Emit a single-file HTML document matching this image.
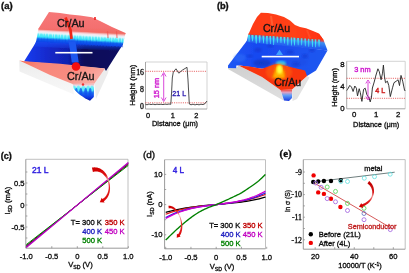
<!DOCTYPE html>
<html><head><meta charset="utf-8"><style>
html,body{margin:0;padding:0;background:#fff;width:409px;height:273px;overflow:hidden}
svg{display:block}
</style></head><body>
<svg width="409" height="273" viewBox="0 0 409 273">
<rect width="409" height="273" fill="#fff"/>
<g filter="url(#soft)">
<defs>
<filter id="blur1" x="-10%" y="-10%" width="120%" height="120%"><feGaussianBlur stdDeviation="0.65"/></filter>
<filter id="blur2" x="-10%" y="-10%" width="120%" height="120%"><feGaussianBlur stdDeviation="0.9"/></filter>
<filter id="soft" x="0" y="0" width="100%" height="100%" filterUnits="userSpaceOnUse"><feGaussianBlur stdDeviation="0.35"/></filter>
<filter id="tb" x="-10%" y="-10%" width="120%" height="120%"><feGaussianBlur stdDeviation="0.25"/></filter>
<linearGradient id="stepA" gradientUnits="userSpaceOnUse" x1="80" y1="30.9" x2="79.2" y2="44.6">
 <stop offset="0" stop-color="#f06a5c"/>
 <stop offset="0.1" stop-color="#f4a8a8"/>
 <stop offset="0.2" stop-color="#f6e4ec"/>
 <stop offset="0.3" stop-color="#e0f4fa"/>
 <stop offset="0.42" stop-color="#60ecf8"/>
 <stop offset="0.6" stop-color="#38e4f8"/>
 <stop offset="0.76" stop-color="#1064f0"/>
 <stop offset="1" stop-color="#1040e8"/>
</linearGradient>
<linearGradient id="floorA" gradientUnits="userSpaceOnUse" x1="24" y1="0" x2="122" y2="0">
 <stop offset="0" stop-color="#1a3cf0"/>
 <stop offset="0.27" stop-color="#1428c8"/>
 <stop offset="0.45" stop-color="#1020b0"/>
 <stop offset="0.55" stop-color="#0c1470"/>
 <stop offset="0.62" stop-color="#0a0e58"/>
 <stop offset="1" stop-color="#0a1060"/>
</linearGradient>
<linearGradient id="floorTopA" x1="0" y1="0" x2="0" y2="1">
 <stop offset="0" stop-color="#1848f0" stop-opacity="1"/>
 <stop offset="1" stop-color="#1848f0" stop-opacity="0"/>
</linearGradient>
<linearGradient id="stepB" gradientUnits="userSpaceOnUse" x1="285" y1="36.7" x2="284.2" y2="46.4">
 <stop offset="0" stop-color="#ff3a10"/>
 <stop offset="0.15" stop-color="#c05070"/>
 <stop offset="0.3" stop-color="#3c90f0"/>
 <stop offset="0.75" stop-color="#2868f0"/>
 <stop offset="1" stop-color="#2058f0"/>
</linearGradient>
<linearGradient id="greyA" x1="0" y1="0" x2="0" y2="1">
 <stop offset="0" stop-color="#e8e8e8"/>
 <stop offset="0.3" stop-color="#f0f0f0"/>
 <stop offset="1" stop-color="#f8f8f8"/>
</linearGradient>
<linearGradient id="secA" x1="0" y1="0" x2="0" y2="1">
 <stop offset="0" stop-color="#f4a8a8"/>
 <stop offset="0.15" stop-color="#e8e8f4"/>
 <stop offset="0.3" stop-color="#50e8f8"/>
 <stop offset="0.55" stop-color="#1868f0"/>
 <stop offset="0.8" stop-color="#1038e0"/>
 <stop offset="1" stop-color="#0818a0"/>
</linearGradient>
<linearGradient id="frontA" x1="0" y1="0" x2="1" y2="0.4">
 <stop offset="0" stop-color="#f86a50"/>
 <stop offset="0.25" stop-color="#f8857a"/>
 <stop offset="0.7" stop-color="#f88c80"/>
 <stop offset="1" stop-color="#f8a8a0"/>
</linearGradient>
<linearGradient id="topA" x1="0" y1="0" x2="0" y2="1">
 <stop offset="0" stop-color="#f67878"/>
 <stop offset="0.7" stop-color="#f47070"/>
 <stop offset="1" stop-color="#f26860"/>
</linearGradient>
<linearGradient id="greyB" x1="0" y1="0" x2="0" y2="1">
 <stop offset="0" stop-color="#d0d0d0"/>
 <stop offset="1" stop-color="#e0e0e0"/>
</linearGradient>
<linearGradient id="floorB" x1="0" y1="0" x2="1" y2="0">
 <stop offset="0" stop-color="#2058f4"/>
 <stop offset="0.3" stop-color="#1848f0"/>
 <stop offset="1" stop-color="#2058f0"/>
</linearGradient>
<linearGradient id="topB" x1="0" y1="0" x2="1" y2="0">
 <stop offset="0" stop-color="#ff3a14"/>
 <stop offset="0.6" stop-color="#ff4018"/>
 <stop offset="1" stop-color="#ff3010"/>
</linearGradient>
<linearGradient id="secB" x1="0" y1="0" x2="0" y2="1">
 <stop offset="0" stop-color="#f04030"/>
 <stop offset="0.25" stop-color="#e0a0c0"/>
 <stop offset="0.5" stop-color="#60a0f8"/>
 <stop offset="1" stop-color="#1838e0"/>
</linearGradient>
<radialGradient id="hotB" cx="0.5" cy="0.45" r="0.5">
 <stop offset="0" stop-color="#ffff30"/>
 <stop offset="0.35" stop-color="#ffd000"/>
 <stop offset="0.7" stop-color="#ff8000"/>
 <stop offset="1" stop-color="#f83410" stop-opacity="0"/>
</radialGradient>
<linearGradient id="arrC" gradientUnits="userSpaceOnUse" x1="95" y1="169" x2="104" y2="202">
 <stop offset="0" stop-color="#d00000"/>
 <stop offset="0.25" stop-color="#e01010"/>
 <stop offset="0.4" stop-color="#f4a0a0"/>
 <stop offset="0.55" stop-color="#e83030"/>
 <stop offset="1" stop-color="#d80000"/>
</linearGradient>
<linearGradient id="arrD" gradientUnits="userSpaceOnUse" x1="170" y1="207" x2="178" y2="238">
 <stop offset="0" stop-color="#d00000"/>
 <stop offset="0.2" stop-color="#e02020"/>
 <stop offset="0.33" stop-color="#f8c0c0"/>
 <stop offset="0.5" stop-color="#e84040"/>
 <stop offset="1" stop-color="#d80000"/>
</linearGradient>
<linearGradient id="arrE" gradientUnits="userSpaceOnUse" x1="368" y1="182" x2="362" y2="207">
 <stop offset="0" stop-color="#c00000"/>
 <stop offset="0.35" stop-color="#d81818"/>
 <stop offset="0.5" stop-color="#f09090"/>
 <stop offset="0.7" stop-color="#e02020"/>
 <stop offset="1" stop-color="#d00000"/>
</linearGradient>
<linearGradient id="flakeA" x1="0" y1="0" x2="0" y2="1">
 <stop offset="0" stop-color="#1c58f0" stop-opacity="0"/>
 <stop offset="0.25" stop-color="#1c58f0" stop-opacity="1"/>
 <stop offset="1" stop-color="#1c58f0" stop-opacity="1"/>
</linearGradient>
<linearGradient id="arrowG" x1="0" y1="0" x2="1" y2="0">
 <stop offset="0" stop-color="#d00000"/>
 <stop offset="0.6" stop-color="#e02020"/>
 <stop offset="1" stop-color="#f8c0c0"/>
</linearGradient>
</defs>
<g filter="url(#blur1)">
<polygon points="19.30,60.50 50.00,75.00 72.50,84.00 74.00,94.50 19.50,71.50" fill="url(#greyA)" />
<polygon points="105.00,68.50 109.50,66.50 108.00,73.00 96.00,99.00 94.50,83.50" fill="#ececec" />
<polygon points="38.00,39.00 123.00,43.00 122.50,45.00 106.00,71.00 104.50,68.50 24.00,61.50" fill="url(#floorA)" />
<polygon points="36.00,41.50 122.00,45.50 119.00,51.00 34.00,46.50" fill="url(#floorTopA)" />
<polygon points="38.50,28.50 125.50,33.50 123.00,44.00 121.50,46.50 36.00,42.00" fill="url(#stepA)" />
<polygon points="37.29,43.01 39.09,43.01 38.39,37.38" fill="#1048e8" opacity="0.55"/>
<polygon points="38.89,32.51 40.49,32.51 39.69,36.62" fill="#e8f8fc" opacity="0.6"/>
<polygon points="40.72,43.19 42.52,43.19 41.82,37.31" fill="#1048e8" opacity="0.55"/>
<polygon points="42.32,32.71 43.92,32.71 43.12,35.90" fill="#e8f8fc" opacity="0.6"/>
<polygon points="43.02,43.30 44.82,43.30 44.12,36.79" fill="#1048e8" opacity="0.55"/>
<polygon points="44.62,32.84 46.22,32.84 45.42,36.62" fill="#e8f8fc" opacity="0.6"/>
<polygon points="46.28,43.47 48.08,43.47 47.38,36.49" fill="#1048e8" opacity="0.55"/>
<polygon points="47.88,33.02 49.48,33.02 48.68,37.44" fill="#e8f8fc" opacity="0.6"/>
<polygon points="50.00,43.66 51.80,43.66 51.10,38.23" fill="#1048e8" opacity="0.55"/>
<polygon points="51.60,33.24 53.20,33.24 52.40,38.15" fill="#e8f8fc" opacity="0.6"/>
<polygon points="52.18,43.78 53.98,43.78 53.28,37.87" fill="#1048e8" opacity="0.55"/>
<polygon points="53.78,33.36 55.38,33.36 54.58,38.97" fill="#e8f8fc" opacity="0.6"/>
<polygon points="55.63,43.95 57.43,43.95 56.73,37.73" fill="#1048e8" opacity="0.55"/>
<polygon points="57.23,33.56 58.83,33.56 58.03,38.57" fill="#e8f8fc" opacity="0.6"/>
<polygon points="58.08,44.08 59.88,44.08 59.18,37.80" fill="#1048e8" opacity="0.55"/>
<polygon points="59.68,33.70 61.28,33.70 60.48,38.47" fill="#e8f8fc" opacity="0.6"/>
<polygon points="61.36,44.25 63.16,44.25 62.46,40.15" fill="#1048e8" opacity="0.55"/>
<polygon points="62.96,33.89 64.56,33.89 63.76,39.48" fill="#e8f8fc" opacity="0.6"/>
<polygon points="64.57,44.41 66.37,44.41 65.67,38.26" fill="#1048e8" opacity="0.55"/>
<polygon points="66.17,34.07 67.77,34.07 66.97,39.71" fill="#e8f8fc" opacity="0.6"/>
<polygon points="67.86,44.58 69.66,44.58 68.96,37.82" fill="#1048e8" opacity="0.55"/>
<polygon points="69.46,34.26 71.06,34.26 70.26,38.44" fill="#e8f8fc" opacity="0.6"/>
<polygon points="70.96,44.74 72.76,44.74 72.06,39.41" fill="#1048e8" opacity="0.55"/>
<polygon points="72.56,34.43 74.16,34.43 73.36,40.24" fill="#e8f8fc" opacity="0.6"/>
<polygon points="74.05,44.90 75.85,44.90 75.15,40.61" fill="#1048e8" opacity="0.55"/>
<polygon points="75.65,34.61 77.25,34.61 76.45,38.02" fill="#e8f8fc" opacity="0.6"/>
<polygon points="76.26,45.01 78.06,45.01 77.36,38.12" fill="#1048e8" opacity="0.55"/>
<polygon points="77.86,34.74 79.46,34.74 78.66,39.05" fill="#e8f8fc" opacity="0.6"/>
<polygon points="79.75,45.19 81.55,45.19 80.85,40.29" fill="#1048e8" opacity="0.55"/>
<polygon points="81.35,34.94 82.95,34.94 82.15,39.46" fill="#e8f8fc" opacity="0.6"/>
<polygon points="82.46,45.33 84.26,45.33 83.56,40.28" fill="#1048e8" opacity="0.55"/>
<polygon points="84.06,35.09 85.66,35.09 84.86,39.85" fill="#e8f8fc" opacity="0.6"/>
<polygon points="85.70,45.50 87.50,45.50 86.80,38.79" fill="#1048e8" opacity="0.55"/>
<polygon points="87.30,35.28 88.90,35.28 88.10,40.32" fill="#e8f8fc" opacity="0.6"/>
<polygon points="89.11,45.68 90.91,45.68 90.21,39.11" fill="#1048e8" opacity="0.55"/>
<polygon points="90.71,35.47 92.31,35.47 91.51,41.45" fill="#e8f8fc" opacity="0.6"/>
<polygon points="91.81,45.81 93.61,45.81 92.91,41.32" fill="#1048e8" opacity="0.55"/>
<polygon points="93.41,35.63 95.01,35.63 94.21,41.21" fill="#e8f8fc" opacity="0.6"/>
<polygon points="95.16,45.99 96.96,45.99 96.26,39.27" fill="#1048e8" opacity="0.55"/>
<polygon points="96.76,35.82 98.36,35.82 97.56,40.52" fill="#e8f8fc" opacity="0.6"/>
<polygon points="97.86,46.12 99.66,46.12 98.96,41.49" fill="#1048e8" opacity="0.55"/>
<polygon points="99.46,35.97 101.06,35.97 100.26,41.47" fill="#e8f8fc" opacity="0.6"/>
<polygon points="100.69,46.27 102.49,46.27 101.79,41.42" fill="#1048e8" opacity="0.55"/>
<polygon points="102.29,36.13 103.89,36.13 103.09,39.32" fill="#e8f8fc" opacity="0.6"/>
<polygon points="104.02,46.44 105.82,46.44 105.12,39.47" fill="#1048e8" opacity="0.55"/>
<polygon points="105.62,36.32 107.22,36.32 106.42,39.59" fill="#e8f8fc" opacity="0.6"/>
<polygon points="106.96,46.59 108.76,46.59 108.06,41.36" fill="#1048e8" opacity="0.55"/>
<polygon points="108.56,36.49 110.16,36.49 109.36,39.94" fill="#e8f8fc" opacity="0.6"/>
<polygon points="109.35,46.72 111.15,46.72 110.45,40.41" fill="#1048e8" opacity="0.55"/>
<polygon points="110.95,36.63 112.55,36.63 111.75,42.25" fill="#e8f8fc" opacity="0.6"/>
<polygon points="112.05,46.85 113.85,46.85 113.15,41.01" fill="#1048e8" opacity="0.55"/>
<polygon points="113.65,36.78 115.25,36.78 114.45,39.92" fill="#e8f8fc" opacity="0.6"/>
<polygon points="115.86,47.05 117.66,47.05 116.96,42.06" fill="#1048e8" opacity="0.55"/>
<polygon points="117.46,37.00 119.06,37.00 118.26,42.64" fill="#e8f8fc" opacity="0.6"/>
<polygon points="119.18,47.22 120.98,47.22 120.28,41.70" fill="#1048e8" opacity="0.55"/>
<polygon points="120.78,37.19 122.38,37.19 121.58,43.19" fill="#e8f8fc" opacity="0.6"/>
<polygon points="121.37,47.33 123.17,47.33 122.47,43.10" fill="#1048e8" opacity="0.55"/>
<polygon points="122.97,37.32 124.57,37.32 123.77,42.11" fill="#e8f8fc" opacity="0.6"/>
<polygon points="49.00,12.00 60.00,13.00 70.00,14.50 80.00,15.60 92.00,17.30 100.00,21.00 112.00,27.00 125.50,33.00 125.50,34.00 38.50,29.50 38.50,28.50" fill="url(#topA)" />
<polygon points="19.30,60.50 24.50,61.20 60.00,63.80 105.00,68.50 94.50,83.50 72.50,84.00 50.00,75.00" fill="url(#frontA)" />
<clipPath id="clipSecA"><polygon points="72.4,83.5 94.2,83.5 93.8,97 90,100.8 85,98.2 78.5,93.8 74,89"/></clipPath>
<polygon points="72.40,83.50 94.20,83.50 93.80,97.00 90.00,100.80 85.00,98.20 78.50,93.80 74.00,89.00" fill="url(#secA)" />
<g clip-path="url(#clipSecA)">
<ellipse cx="74.2" cy="88.5" rx="1.6" ry="3" fill="#60f0f8" opacity="0.8"/>
<ellipse cx="78.4" cy="88.5" rx="1.6" ry="3" fill="#60f0f8" opacity="0.8"/>
<ellipse cx="83.3" cy="88.5" rx="1.6" ry="3" fill="#60f0f8" opacity="0.8"/>
<ellipse cx="88.2" cy="88.5" rx="1.6" ry="3" fill="#60f0f8" opacity="0.8"/>
<ellipse cx="92" cy="88.5" rx="1.6" ry="3" fill="#60f0f8" opacity="0.8"/>
<ellipse cx="76.3" cy="92" rx="1.4" ry="4" fill="#1050f0" opacity="0.7"/>
<ellipse cx="80.8" cy="92" rx="1.4" ry="4" fill="#1050f0" opacity="0.7"/>
<ellipse cx="85.7" cy="92" rx="1.4" ry="4" fill="#1050f0" opacity="0.7"/>
<ellipse cx="90.2" cy="92" rx="1.4" ry="4" fill="#1050f0" opacity="0.7"/>
</g>
<polygon points="68,37 74.8,37 78.8,62.5 71.8,62.5" fill="url(#flakeA)" filter="url(#blur1)"/>
<path d="M65.5,17.5 L70.5,30 L71.5,39" stroke="#f02818" stroke-width="2.8" fill="none"/>
<path d="M95,17 L95,20" stroke="#f02020" stroke-width="1.6"/>
<path d="M107.5,31 L108,38" stroke="#f05050" stroke-width="1.4" opacity="0.6"/>
<path d="M116.5,31 L117,38" stroke="#f05050" stroke-width="1.4" opacity="0.6"/>
<circle cx="76" cy="66.5" r="4.3" fill="#f41010"/>
<circle cx="83" cy="84.5" r="1.2" fill="#f03030"/>
</g>
<rect x="55.3" y="51.9" width="37.2" height="1.6" fill="#fff"/>
<text x="70.8" y="26.8" font-size="10.8" fill="#151515" stroke="#151515" stroke-width="0.33" text-anchor="middle" font-weight="normal" style='font-family:"Liberation Sans",sans-serif' >Cr/Au</text>
<text x="80.8" y="80" font-size="10.8" fill="#151515" stroke="#151515" stroke-width="0.33" text-anchor="middle" font-weight="normal" style='font-family:"Liberation Sans",sans-serif' >Cr/Au</text>
<g filter="url(#blur1)">
<polygon points="228.00,67.50 236.30,68.30 238.50,65.40 262.00,77.00 280.50,90.00 283.50,100.50 228.00,69.00" fill="url(#greyB)" />
<polygon points="307.00,76.00 309.50,77.50 297.00,99.00 292.50,101.00 292.00,89.50" fill="#e2e2e2" />
<polygon points="247.50,40.00 327.50,50.50 316.00,70.50 307.00,76.00 286.00,66.00 262.00,68.70 240.00,65.40 236.30,65.40 236.30,68.30 228.00,68.00 228.00,65.40" fill="url(#floorB)" />
<ellipse cx="262" cy="63" rx="9" ry="3.5" fill="#1030b0" opacity="0.55" filter="url(#blur2)"/>
<ellipse cx="240" cy="58" rx="6" ry="4" fill="#3070f8" opacity="0.5" filter="url(#blur2)"/>
<ellipse cx="258" cy="50" rx="4" ry="2" fill="#0c30c8" opacity="0.5" filter="url(#blur2)"/>
<ellipse cx="270" cy="46" rx="3" ry="1.5" fill="#0c30c8" opacity="0.5" filter="url(#blur2)"/>
<ellipse cx="290" cy="52" rx="4" ry="2" fill="#0c30c8" opacity="0.5" filter="url(#blur2)"/>
<ellipse cx="305" cy="56" rx="3" ry="2" fill="#0c30c8" opacity="0.5" filter="url(#blur2)"/>
<ellipse cx="250" cy="56" rx="3" ry="1.5" fill="#0c30c8" opacity="0.5" filter="url(#blur2)"/>
<ellipse cx="296" cy="64" rx="4" ry="2" fill="#0c30c8" opacity="0.5" filter="url(#blur2)"/>
<ellipse cx="312" cy="50" rx="3" ry="2" fill="#0c30c8" opacity="0.5" filter="url(#blur2)"/>
<ellipse cx="300" cy="62" rx="8" ry="4" fill="#1a48d8" opacity="0.25" filter="url(#blur2)"/>
<ellipse cx="281" cy="63.5" rx="5" ry="2.8" fill="#30d8f8" opacity="0.9" filter="url(#blur2)"/>
<polygon points="248.50,33.50 319.00,34.00 323.60,40.00 327.50,50.50 246.50,42.00" fill="url(#stepB)" />
<g filter="url(#blur1)">
<polygon points="247.99,34.85 250.00,34.85 249.40,41.85 248.80,41.85" fill="#40e8f8" opacity="0.95"/>
<polygon points="249.95,33.35 251.55,33.35 250.75,38.85" fill="#3050d0" opacity="0.6"/>
<polygon points="251.32,35.01 253.59,35.01 252.86,41.21 252.26,41.21" fill="#40e8f8" opacity="0.95"/>
<polygon points="253.41,33.51 255.01,33.51 254.21,39.01" fill="#3050d0" opacity="0.6"/>
<polygon points="254.97,35.19 257.26,35.19 256.51,43.66 255.91,43.66" fill="#40e8f8" opacity="0.95"/>
<polygon points="257.06,33.69 258.66,33.69 257.86,39.19" fill="#3050d0" opacity="0.6"/>
<polygon points="258.72,35.36 260.64,35.36 260.08,42.70 259.48,42.70" fill="#40e8f8" opacity="0.95"/>
<polygon points="260.63,33.86 262.23,33.86 261.43,39.36" fill="#3050d0" opacity="0.6"/>
<polygon points="262.46,35.54 264.42,35.54 263.84,43.29 263.24,43.29" fill="#40e8f8" opacity="0.95"/>
<polygon points="264.39,34.04 265.99,34.04 265.19,39.54" fill="#3050d0" opacity="0.6"/>
<polygon points="265.97,35.71 267.87,35.71 267.32,44.35 266.72,44.35" fill="#40e8f8" opacity="0.95"/>
<polygon points="267.87,34.21 269.47,34.21 268.67,39.71" fill="#3050d0" opacity="0.6"/>
<polygon points="269.41,35.87 271.05,35.87 270.63,44.05 270.03,44.05" fill="#40e8f8" opacity="0.95"/>
<polygon points="271.18,34.37 272.78,34.37 271.98,39.87" fill="#3050d0" opacity="0.6"/>
<polygon points="272.64,36.03 274.56,36.03 274.00,44.90 273.40,44.90" fill="#40e8f8" opacity="0.95"/>
<polygon points="274.55,34.53 276.15,34.53 275.35,40.03" fill="#3050d0" opacity="0.6"/>
<polygon points="276.44,36.21 278.26,36.21 277.75,42.84 277.15,42.84" fill="#40e8f8" opacity="0.95"/>
<polygon points="278.30,34.71 279.90,34.71 279.10,40.21" fill="#3050d0" opacity="0.6"/>
<polygon points="279.87,36.38 281.89,36.38 281.28,43.10 280.68,43.10" fill="#40e8f8" opacity="0.95"/>
<polygon points="281.83,34.88 283.43,34.88 282.63,40.38" fill="#3050d0" opacity="0.6"/>
<polygon points="283.42,36.55 285.45,36.55 284.83,43.44 284.23,43.44" fill="#40e8f8" opacity="0.95"/>
<polygon points="285.38,35.05 286.98,35.05 286.18,40.55" fill="#3050d0" opacity="0.6"/>
<polygon points="286.89,36.71 288.64,36.71 288.17,45.15 287.57,45.15" fill="#40e8f8" opacity="0.95"/>
<polygon points="288.72,35.21 290.32,35.21 289.52,40.71" fill="#3050d0" opacity="0.6"/>
<polygon points="290.80,36.89 292.22,36.89 291.91,45.55 291.31,45.55" fill="#40e8f8" opacity="0.95"/>
<polygon points="292.46,35.39 294.06,35.39 293.26,40.89" fill="#3050d0" opacity="0.6"/>
<polygon points="293.18,37.02 295.54,37.02 294.76,45.60 294.16,45.60" fill="#40e8f8" opacity="0.95"/>
<polygon points="295.31,35.52 296.91,35.52 296.11,41.02" fill="#3050d0" opacity="0.6"/>
<polygon points="297.05,37.20 299.05,37.20 298.45,45.32 297.85,45.32" fill="#40e8f8" opacity="0.95"/>
<polygon points="299.00,35.70 300.60,35.70 299.80,41.20" fill="#3050d0" opacity="0.6"/>
<polygon points="300.76,37.37 302.48,37.37 302.02,45.35 301.42,45.35" fill="#40e8f8" opacity="0.95"/>
<polygon points="302.57,35.87 304.17,35.87 303.37,41.37" fill="#3050d0" opacity="0.6"/>
<polygon points="304.32,37.54 306.02,37.54 305.57,46.15 304.97,46.15" fill="#40e8f8" opacity="0.95"/>
<polygon points="306.12,36.04 307.72,36.04 306.92,41.54" fill="#3050d0" opacity="0.6"/>
<polygon points="307.96,37.71 309.39,37.71 309.08,46.81 308.48,46.81" fill="#40e8f8" opacity="0.95"/>
<polygon points="309.63,36.21 311.23,36.21 310.43,41.71" fill="#3050d0" opacity="0.6"/>
<polygon points="311.51,37.89 313.22,37.89 312.77,46.97 312.17,46.97" fill="#40e8f8" opacity="0.95"/>
<polygon points="313.32,36.39 314.92,36.39 314.12,41.89" fill="#3050d0" opacity="0.6"/>
<polygon points="314.70,38.04 316.34,38.04 315.92,47.35 315.32,47.35" fill="#40e8f8" opacity="0.95"/>
<polygon points="316.47,36.54 318.07,36.54 317.27,42.04" fill="#3050d0" opacity="0.6"/>
<polygon points="317.94,38.20 320.04,38.20 319.39,46.71 318.79,46.71" fill="#40e8f8" opacity="0.95"/>
<polygon points="319.94,36.70 321.54,36.70 320.74,42.20" fill="#3050d0" opacity="0.6"/>
</g>
<polygon points="249.00,33.00 253.00,24.00 257.00,17.00 260.90,12.70 268.00,13.00 276.00,14.50 284.00,17.00 290.00,20.50 295.00,25.00 300.00,27.00 306.00,28.20 313.00,31.00 319.00,33.60 323.60,40.00 322.00,39.80 248.50,34.20" fill="url(#topB)" />
<path d="M271,16 L273.5,34" stroke="#ff7040" stroke-width="2" opacity="0.6"/>
<path d="M307,30 L310,38" stroke="#ff6030" stroke-width="2" opacity="0.5"/>
<polygon points="238.50,65.40 249.50,66.50 262.00,68.70 274.00,64.60 278.70,64.00 286.00,66.00 305.00,70.40 307.00,76.00 292.00,89.50 280.50,90.00 262.00,77.00" fill="#f83410" />
<ellipse cx="279" cy="72" rx="13" ry="9" fill="#ff7000" opacity="0.45" filter="url(#blur2)"/>
<path d="M272.5,78 L276,67 L278.5,64.5 L281,65.5 L284.5,72 L285,78 Z" fill="#ffb000" filter="url(#blur2)"/>
<ellipse cx="279.6" cy="69.5" rx="2.8" ry="4.5" fill="#ffff40" filter="url(#blur2)"/>
<polygon points="280.50,90.00 292.00,89.50 292.00,98.00 289.00,101.00 284.00,100.50" fill="url(#secB)" />
<polygon points="276,55 279.5,49.5 283,55" fill="#40a0ff"/>
</g>
<rect x="261.7" y="55.8" width="37.3" height="1.6" fill="#fff"/>
<text x="276.5" y="32" font-size="10.6" fill="#151515" stroke="#151515" stroke-width="0.33" text-anchor="middle" font-weight="normal" style='font-family:"Liberation Sans",sans-serif' >Cr/Au</text>
<text x="287.7" y="85.8" font-size="10.6" fill="#151515" stroke="#151515" stroke-width="0.33" text-anchor="middle" font-weight="normal" style='font-family:"Liberation Sans",sans-serif' >Cr/Au</text>
<text x="1" y="9.2" font-size="8.6" fill="#111" stroke="#111" stroke-width="0.33" text-anchor="start" font-weight="bold" style='font-family:"Liberation Sans",sans-serif' textLength="11.6" lengthAdjust="spacingAndGlyphs">(a)</text>
<text x="216.9" y="8.7" font-size="8.6" fill="#111" stroke="#111" stroke-width="0.33" text-anchor="start" font-weight="bold" style='font-family:"Liberation Sans",sans-serif' textLength="11.8" lengthAdjust="spacingAndGlyphs">(b)</text>
<text x="0.7" y="158.6" font-size="8.6" fill="#111" stroke="#111" stroke-width="0.33" text-anchor="start" font-weight="bold" style='font-family:"Liberation Sans",sans-serif' textLength="11.1" lengthAdjust="spacingAndGlyphs">(c)</text>
<text x="143" y="158.2" font-size="8.6" fill="#111" stroke="#111" stroke-width="0.33" text-anchor="start" font-weight="normal" style='font-family:"Liberation Sans",sans-serif' textLength="12.2" lengthAdjust="spacingAndGlyphs">(d)</text>
<text x="279.6" y="156.6" font-size="9.6" fill="#111" stroke="#111" stroke-width="0.33" text-anchor="start" font-weight="bold" style='font-family:"Liberation Serif",serif' textLength="12" lengthAdjust="spacingAndGlyphs">(e)</text>
<path d="M145.5,62 L207,62 L207,109" fill="none" stroke="#c8c8c8" stroke-width="0.8"/>
<path d="M145.5,62 L145.5,109 L207,109" fill="none" stroke="#909090" stroke-width="0.8"/>
<line x1="145.5" y1="71.3" x2="207" y2="71.3" stroke="#e03030" stroke-width="0.8" stroke-dasharray="1,1.2"/>
<line x1="145.5" y1="102.8" x2="207" y2="102.8" stroke="#e03030" stroke-width="0.8" stroke-dasharray="1,1.2"/>
<polyline points="145.50,104.30 147.00,104.80 149.00,104.00 151.00,104.60 153.00,104.10 155.00,104.70 157.00,104.20 159.00,104.50 161.00,104.20 163.00,104.60 165.00,104.10 167.00,104.40 169.00,104.00 170.80,104.30 171.60,92.00 172.30,78.00 173.30,72.00 176.00,68.80 178.80,73.20 182.40,70.10 187.00,67.30 188.00,80.00 189.30,104.00 191.00,104.80 193.00,104.20 195.00,104.90 197.00,104.30 199.00,104.80 201.00,104.20 203.00,104.60 205.00,103.60 207.00,101.00" fill="none" stroke="#222" stroke-width="0.8" stroke-linejoin="round" />
<line x1="163.7" y1="74" x2="163.7" y2="100" stroke="#d020d0" stroke-width="0.8"/>
<path d="M161.3,76.5 L163.7,72.5 L166.1,76.5" fill="none" stroke="#d020d0" stroke-width="0.8"/>
<path d="M161.3,97.5 L163.7,101.5 L166.1,97.5" fill="none" stroke="#d020d0" stroke-width="0.8"/>
<text x="156" y="88" font-size="7.6" fill="#d020d0" stroke="#d020d0" stroke-width="0.4" text-anchor="middle" font-weight="normal" style='font-family:"Liberation Sans",sans-serif' transform="rotate(-90 156 88) translate(0 2.7)" textLength="20.5" lengthAdjust="spacingAndGlyphs">15 nm</text>
<text x="179.2" y="95.7" font-size="7.8" fill="#3020b0" stroke="#3020b0" stroke-width="0.35" text-anchor="middle" font-weight="normal" style='font-family:"Liberation Sans",sans-serif' textLength="13.8" lengthAdjust="spacingAndGlyphs">21 L</text>
<text x="144" y="74.89999999999999" font-size="7.8" fill="#111" stroke="#111" stroke-width="0.33" text-anchor="end" font-weight="normal" style='font-family:"Liberation Serif",serif' >16</text>
<text x="144" y="91.75" font-size="7.8" fill="#111" stroke="#111" stroke-width="0.33" text-anchor="end" font-weight="normal" style='font-family:"Liberation Serif",serif' >8</text>
<text x="144" y="108.6" font-size="7.8" fill="#111" stroke="#111" stroke-width="0.33" text-anchor="end" font-weight="normal" style='font-family:"Liberation Serif",serif' >0</text>
<text x="148" y="118.3" font-size="7.4" fill="#111" stroke="#111" stroke-width="0.33" text-anchor="middle" font-weight="normal" style='font-family:"Liberation Sans",sans-serif' >0</text>
<text x="172.7" y="118.3" font-size="7.4" fill="#111" stroke="#111" stroke-width="0.33" text-anchor="middle" font-weight="normal" style='font-family:"Liberation Sans",sans-serif' >1</text>
<text x="196.4" y="118.3" font-size="7.4" fill="#111" stroke="#111" stroke-width="0.33" text-anchor="middle" font-weight="normal" style='font-family:"Liberation Sans",sans-serif' >2</text>
<text x="175" y="126.3" font-size="7.4" fill="#111" stroke="#111" stroke-width="0.33" text-anchor="middle" font-weight="normal" style='font-family:"Liberation Sans",sans-serif' >Distance (μm)</text>
<text x="132.8" y="85.2" font-size="7.8" fill="#111" stroke="#111" stroke-width="0.33" text-anchor="middle" font-weight="normal" style='font-family:"Liberation Sans",sans-serif' transform="rotate(-90 132.8 85.2) translate(0 2.7)" textLength="41" lengthAdjust="spacingAndGlyphs">Height (nm)</text>
<path d="M346.7,61.3 L405.2,61.3 L405.2,108.8" fill="none" stroke="#c8c8c8" stroke-width="0.8"/>
<path d="M346.7,61.3 L346.7,108.8 L405.2,108.8" fill="none" stroke="#909090" stroke-width="0.8"/>
<line x1="346.7" y1="78.3" x2="405.2" y2="78.3" stroke="#e03030" stroke-width="0.8" stroke-dasharray="1,1.2"/>
<line x1="346.7" y1="98.3" x2="405.2" y2="98.3" stroke="#e03030" stroke-width="0.8" stroke-dasharray="1,1.2"/>
<polyline points="346.80,90.50 347.60,89.30 349.80,85.40 351.50,87.10 353.10,91.50 354.80,86.00 356.40,88.20 357.50,95.90 359.20,88.70 360.30,92.60 361.90,101.40 363.60,89.30 365.20,88.20 366.90,94.80 368.00,96.40 369.10,98.10 370.20,101.90 371.50,97.00 372.40,88.00 374.20,82.00 375.70,76.10 377.90,68.80 379.30,71.70 381.10,79.80 382.50,73.20 383.40,65.10 384.40,76.10 385.50,82.70 387.40,81.20 388.80,85.60 390.30,96.60 392.50,87.80 394.00,82.70 396.20,81.20 398.10,79.80 399.50,85.60 401.00,75.40 402.70,81.20 404.50,90.00 405.20,91.00" fill="none" stroke="#222" stroke-width="0.9" stroke-linejoin="round" />
<line x1="368" y1="82" x2="368" y2="98" stroke="#d020d0" stroke-width="0.8"/>
<path d="M365.8,83.5 L368,80 L370.2,83.5" fill="none" stroke="#d020d0" stroke-width="0.8"/>
<path d="M365.8,96.5 L368,100 L370.2,96.5" fill="none" stroke="#d020d0" stroke-width="0.8"/>
<text x="362.4" y="72.2" font-size="8" fill="#d020d0" stroke="#d020d0" stroke-width="0.45" text-anchor="middle" font-weight="normal" style='font-family:"Liberation Sans",sans-serif' textLength="16.5" lengthAdjust="spacingAndGlyphs">3 nm</text>
<text x="380.2" y="93.4" font-size="8" fill="#d02020" stroke="#d02020" stroke-width="0.45" text-anchor="middle" font-weight="normal" style='font-family:"Liberation Sans",sans-serif' textLength="10" lengthAdjust="spacingAndGlyphs">4 L</text>
<text x="344.5" y="66.89999999999999" font-size="7.8" fill="#111" stroke="#111" stroke-width="0.33" text-anchor="end" font-weight="normal" style='font-family:"Liberation Sans",sans-serif' >8</text>
<text x="344.5" y="88.75" font-size="7.8" fill="#111" stroke="#111" stroke-width="0.33" text-anchor="end" font-weight="normal" style='font-family:"Liberation Sans",sans-serif' >4</text>
<text x="344.5" y="110.6" font-size="7.8" fill="#111" stroke="#111" stroke-width="0.33" text-anchor="end" font-weight="normal" style='font-family:"Liberation Sans",sans-serif' >0</text>
<text x="354.2" y="117" font-size="7.8" fill="#111" stroke="#111" stroke-width="0.33" text-anchor="middle" font-weight="normal" style='font-family:"Liberation Sans",sans-serif' >0</text>
<text x="376.2" y="117" font-size="7.8" fill="#111" stroke="#111" stroke-width="0.33" text-anchor="middle" font-weight="normal" style='font-family:"Liberation Sans",sans-serif' >1</text>
<text x="398.2" y="117" font-size="7.8" fill="#111" stroke="#111" stroke-width="0.33" text-anchor="middle" font-weight="normal" style='font-family:"Liberation Sans",sans-serif' >2</text>
<text x="376.2" y="127" font-size="7.4" fill="#111" stroke="#111" stroke-width="0.33" text-anchor="middle" font-weight="normal" style='font-family:"Liberation Sans",sans-serif' >Distance (μm)</text>
<text x="334.2" y="87.4" font-size="7.8" fill="#111" stroke="#111" stroke-width="0.33" text-anchor="middle" font-weight="normal" style='font-family:"Liberation Sans",sans-serif' transform="rotate(-90 334.2 87.4) translate(0 2.7)" textLength="38.5" lengthAdjust="spacingAndGlyphs">Height (nm)</text>
<path d="M25.8,159.3 L128,159.3 L128,248.2" fill="none" stroke="#b0b0b0" stroke-width="0.8"/>
<path d="M25.8,159.3 L25.8,248.2 L128,248.2" fill="none" stroke="#808080" stroke-width="0.8"/>
<line x1="26.299999999999997" y1="248.2" x2="26.299999999999997" y2="246.2" stroke="#808080" stroke-width="0.7"/>
<line x1="51.8" y1="248.2" x2="51.8" y2="246.2" stroke="#808080" stroke-width="0.7"/>
<line x1="77.3" y1="248.2" x2="77.3" y2="246.2" stroke="#808080" stroke-width="0.7"/>
<line x1="102.8" y1="248.2" x2="102.8" y2="246.2" stroke="#808080" stroke-width="0.7"/>
<line x1="128.3" y1="248.2" x2="128.3" y2="246.2" stroke="#808080" stroke-width="0.7"/>
<line x1="25.8" y1="238.0" x2="27.400000000000002" y2="238.0" stroke="#808080" stroke-width="0.7"/>
<line x1="25.8" y1="227.0" x2="27.400000000000002" y2="227.0" stroke="#808080" stroke-width="0.7"/>
<line x1="25.8" y1="216.0" x2="27.400000000000002" y2="216.0" stroke="#808080" stroke-width="0.7"/>
<line x1="25.8" y1="205" x2="27.400000000000002" y2="205" stroke="#808080" stroke-width="0.7"/>
<line x1="25.8" y1="194.0" x2="27.400000000000002" y2="194.0" stroke="#808080" stroke-width="0.7"/>
<line x1="25.8" y1="183.0" x2="27.400000000000002" y2="183.0" stroke="#808080" stroke-width="0.7"/>
<line x1="25.8" y1="172.0" x2="27.400000000000002" y2="172.0" stroke="#808080" stroke-width="0.7"/>
<polyline points="26.30,245.70 128.30,164.30" fill="none" stroke="#000000" stroke-width="0.9" stroke-linejoin="round" />
<polyline points="26.30,246.36 128.30,163.64" fill="none" stroke="#c00000" stroke-width="0.9" stroke-linejoin="round" />
<polyline points="26.30,246.89 128.30,163.11" fill="none" stroke="#2020c0" stroke-width="0.9" stroke-linejoin="round" />
<polyline points="26.30,244.60 128.30,165.40" fill="none" stroke="#008000" stroke-width="1.0" stroke-linejoin="round" />
<polyline points="26.30,247.46 128.30,162.54" fill="none" stroke="#c000c0" stroke-width="1.1" stroke-linejoin="round" />
<text x="40.2" y="172.6" font-size="8.8" fill="#3020e0" stroke="#3020e0" stroke-width="0.45" text-anchor="middle" font-weight="normal" style='font-family:"Liberation Sans",sans-serif' textLength="16.5" lengthAdjust="spacingAndGlyphs">21 L</text>
<text x="24.5" y="185.6" font-size="7.6" fill="#111" stroke="#111" stroke-width="0.33" text-anchor="end" font-weight="normal" style='font-family:"Liberation Sans",sans-serif' >0.5</text>
<text x="24.5" y="207.6" font-size="7.6" fill="#111" stroke="#111" stroke-width="0.33" text-anchor="end" font-weight="normal" style='font-family:"Liberation Sans",sans-serif' >0</text>
<text x="24.5" y="229.6" font-size="7.6" fill="#111" stroke="#111" stroke-width="0.33" text-anchor="end" font-weight="normal" style='font-family:"Liberation Sans",sans-serif' >-0.5</text>
<text x="26.299999999999997" y="259.3" font-size="7.6" fill="#111" stroke="#111" stroke-width="0.33" text-anchor="middle" font-weight="normal" style='font-family:"Liberation Sans",sans-serif' >-1.0</text>
<text x="51.8" y="259.3" font-size="7.6" fill="#111" stroke="#111" stroke-width="0.33" text-anchor="middle" font-weight="normal" style='font-family:"Liberation Sans",sans-serif' >-0.5</text>
<text x="77.3" y="259.3" font-size="7.6" fill="#111" stroke="#111" stroke-width="0.33" text-anchor="middle" font-weight="normal" style='font-family:"Liberation Sans",sans-serif' >0</text>
<text x="102.8" y="259.3" font-size="7.6" fill="#111" stroke="#111" stroke-width="0.33" text-anchor="middle" font-weight="normal" style='font-family:"Liberation Sans",sans-serif' >0.5</text>
<text x="128.3" y="259.3" font-size="7.6" fill="#111" stroke="#111" stroke-width="0.33" text-anchor="middle" font-weight="normal" style='font-family:"Liberation Sans",sans-serif' >1.0</text>
<text x="80.4" y="267" font-size="7.6" fill="#111" stroke="#111" stroke-width="0.33" text-anchor="middle" font-weight="normal" style='font-family:"Liberation Sans",sans-serif' >V<tspan font-size="5.2" dy="1.5">SD</tspan><tspan dy="-1.5"> (V)</tspan></text>
<text x="7.5" y="200.6" font-size="7.6" fill="#111" stroke="#111" stroke-width="0.32" text-anchor="middle" font-weight="normal" style='font-family:"Liberation Sans",sans-serif' transform="rotate(-90 7.5 200.6) translate(0 2.6)">I<tspan font-size="5.2" dy="1.5">SD</tspan><tspan dy="-1.5"> (mA)</tspan></text>
<text x="70.8" y="225.4" font-size="7.6" fill="#111" stroke="#111" stroke-width="0.33" text-anchor="start" font-weight="normal" style='font-family:"Liberation Sans",sans-serif' >T= 300 K</text>
<text x="104.7" y="225.4" font-size="7.6" fill="#c00000" stroke="#c00000" stroke-width="0.33" text-anchor="start" font-weight="normal" style='font-family:"Liberation Sans",sans-serif' >350 K</text>
<text x="82.3" y="234.4" font-size="7.6" fill="#2020c0" stroke="#2020c0" stroke-width="0.33" text-anchor="start" font-weight="normal" style='font-family:"Liberation Sans",sans-serif' >400 K</text>
<text x="104.7" y="234.4" font-size="7.6" fill="#c000c0" stroke="#c000c0" stroke-width="0.33" text-anchor="start" font-weight="normal" style='font-family:"Liberation Sans",sans-serif' >450 K</text>
<text x="82.3" y="243.1" font-size="7.6" fill="#008000" stroke="#008000" stroke-width="0.33" text-anchor="start" font-weight="normal" style='font-family:"Liberation Sans",sans-serif' >500 K</text>
<polygon points="92.90,172.04 93.89,171.76 94.80,171.58 95.70,171.49 96.58,171.48 97.44,171.55 98.30,171.70 99.14,171.93 99.96,172.24 100.78,172.62 101.57,173.09 102.34,173.62 103.09,174.23 103.81,174.90 104.50,175.63 105.15,176.42 105.77,177.27 106.34,178.16 106.87,179.10 107.35,180.08 107.79,181.09 108.09,182.15 108.34,183.23 108.54,184.32 108.67,185.42 108.74,186.52 108.71,187.61 108.63,188.69 108.48,189.75 108.27,190.79 108.00,191.80 107.66,192.77 107.27,193.71 106.81,194.60 106.29,195.45 105.71,196.25 105.07,196.99 104.37,197.67 103.60,198.30 102.77,198.86 101.85,199.38 103.15,201.62 104.18,200.94 105.13,200.17 105.99,199.33 106.77,198.44 107.45,197.50 108.05,196.51 108.56,195.48 108.99,194.42 109.35,193.33 109.62,192.21 109.83,191.08 109.96,189.94 110.03,188.78 110.02,187.62 109.96,186.46 109.87,185.30 109.72,184.14 109.52,182.99 109.26,181.85 108.93,180.73 108.64,179.60 108.28,178.49 107.87,177.40 107.40,176.34 106.87,175.31 106.28,174.31 105.64,173.36 104.93,172.45 104.17,171.59 103.34,170.79 102.46,170.06 101.51,169.39 100.50,168.80 99.42,168.30 98.29,167.89 97.10,167.59 95.85,167.40 94.56,167.33 93.23,167.38 91.90,167.56" fill="url(#arrC)" />
<polygon points="101.69,197.70 99.79,202.20 104.67,202.45" fill="#d80000" />
<path d="M164.6,159.7 L265.5,159.7 L265.5,248.8" fill="none" stroke="#b0b0b0" stroke-width="0.8"/>
<path d="M164.6,159.7 L164.6,248.8 L265.5,248.8" fill="none" stroke="#808080" stroke-width="0.8"/>
<line x1="165.7" y1="248.8" x2="165.7" y2="246.8" stroke="#808080" stroke-width="0.7"/>
<line x1="190.95" y1="248.8" x2="190.95" y2="246.8" stroke="#808080" stroke-width="0.7"/>
<line x1="216.2" y1="248.8" x2="216.2" y2="246.8" stroke="#808080" stroke-width="0.7"/>
<line x1="241.45" y1="248.8" x2="241.45" y2="246.8" stroke="#808080" stroke-width="0.7"/>
<line x1="266.7" y1="248.8" x2="266.7" y2="246.8" stroke="#808080" stroke-width="0.7"/>
<line x1="164.6" y1="234.79999999999998" x2="166.2" y2="234.79999999999998" stroke="#808080" stroke-width="0.7"/>
<line x1="164.6" y1="219.7" x2="166.2" y2="219.7" stroke="#808080" stroke-width="0.7"/>
<line x1="164.6" y1="204.6" x2="166.2" y2="204.6" stroke="#808080" stroke-width="0.7"/>
<line x1="164.6" y1="189.5" x2="166.2" y2="189.5" stroke="#808080" stroke-width="0.7"/>
<line x1="164.6" y1="174.4" x2="166.2" y2="174.4" stroke="#808080" stroke-width="0.7"/>
<polyline points="165.70,212.45 168.22,211.73 170.75,211.06 173.27,210.44 175.80,209.86 178.32,209.33 180.85,208.83 183.38,208.38 185.90,207.95 188.42,207.56 190.95,207.20 193.47,206.87 196.00,206.55 198.52,206.26 201.05,205.99 203.57,205.73 206.10,205.49 208.62,205.26 211.15,205.04 213.67,204.82 216.20,204.60 218.72,204.38 221.25,204.16 223.78,203.94 226.30,203.71 228.82,203.47 231.35,203.21 233.88,202.94 236.40,202.65 238.93,202.33 241.45,202.00 243.97,201.64 246.50,201.25 249.03,200.82 251.55,200.37 254.07,199.87 256.60,199.34 259.12,198.76 261.65,198.14 264.18,197.47 265.50,197.10" fill="none" stroke="#000" stroke-width="1.3" stroke-linejoin="round" />
<polyline points="165.70,214.26 168.22,213.33 170.75,212.47 173.27,211.67 175.80,210.94 178.32,210.26 180.85,209.64 183.38,209.07 185.90,208.54 188.42,208.06 190.95,207.62 193.47,207.21 196.00,206.84 198.52,206.50 201.05,206.18 203.57,205.88 206.10,205.61 208.62,205.34 211.15,205.09 213.67,204.84 216.20,204.60 218.72,204.33 221.25,204.05 223.78,203.77 226.30,203.47 228.82,203.16 231.35,202.82 233.88,202.46 236.40,202.08 238.93,201.66 241.45,201.20 243.97,200.71 246.50,200.16 249.03,199.57 251.55,198.93 254.07,198.23 256.60,197.47 259.12,196.64 261.65,195.74 264.18,194.78 265.50,194.24" fill="none" stroke="#e02020" stroke-width="1.3" stroke-linejoin="round" />
<polyline points="165.70,217.59 168.22,216.28 170.75,215.07 173.27,213.95 175.80,212.93 178.32,212.00 180.85,211.14 183.38,210.36 185.90,209.65 188.42,209.00 190.95,208.41 193.47,207.88 196.00,207.39 198.52,206.95 201.05,206.55 203.57,206.17 206.10,205.83 208.62,205.50 211.15,205.19 213.67,204.89 216.20,204.60 218.72,204.32 221.25,204.04 223.78,203.74 226.30,203.43 228.82,203.10 231.35,202.74 233.88,202.36 236.40,201.94 238.93,201.47 241.45,200.96 243.97,200.40 246.50,199.79 249.03,199.11 251.55,198.36 254.07,197.55 256.60,196.66 259.12,195.68 261.65,194.62 264.18,193.47 265.50,192.82" fill="none" stroke="#2020e0" stroke-width="1.3" stroke-linejoin="round" />
<polyline points="165.70,218.49 168.22,217.09 170.75,215.80 173.27,214.61 175.80,213.51 178.32,212.51 180.85,211.60 183.38,210.76 185.90,210.00 188.42,209.31 190.95,208.68 193.47,208.11 196.00,207.59 198.52,207.12 201.05,206.68 203.57,206.28 206.10,205.91 208.62,205.56 211.15,205.23 213.67,204.91 216.20,204.60 218.72,204.28 221.25,203.95 223.78,203.62 226.30,203.26 228.82,202.88 231.35,202.47 233.88,202.03 236.40,201.55 238.93,201.01 241.45,200.43 243.97,199.79 246.50,199.08 249.03,198.30 251.55,197.45 254.07,196.52 256.60,195.49 259.12,194.38 261.65,193.16 264.18,191.84 265.50,191.10" fill="none" stroke="#d000d0" stroke-width="1.3" stroke-linejoin="round" />
<polyline points="165.70,240.08 166.52,239.27 167.66,238.15 169.01,236.82 170.47,235.39 171.92,233.98 173.27,232.69 174.51,231.52 175.71,230.38 176.90,229.26 178.14,228.13 179.44,226.96 180.85,225.74 182.42,224.42 184.12,223.00 185.90,221.55 187.68,220.13 189.38,218.78 190.95,217.59 192.36,216.54 193.66,215.61 194.90,214.75 196.09,213.96 197.29,213.20 198.52,212.45 199.76,211.73 200.96,211.05 202.15,210.41 203.39,209.79 204.69,209.17 206.10,208.53 207.64,207.88 209.28,207.23 210.99,206.59 212.74,205.94 214.49,205.28 216.20,204.60 217.92,203.89 219.67,203.14 221.42,202.38 223.14,201.63 224.78,200.90 226.30,200.22 227.68,199.59 228.93,199.01 230.10,198.46 231.25,197.91 232.41,197.34 233.62,196.75 234.88,196.15 236.13,195.56 237.39,194.96 238.69,194.33 240.04,193.62 241.45,192.82 242.96,191.90 244.57,190.88 246.23,189.78 247.89,188.66 249.51,187.55 251.04,186.48 252.50,185.46 253.92,184.44 255.29,183.44 256.62,182.44 257.90,181.44 259.12,180.44 260.35,179.36 261.59,178.20 262.79,177.04 263.87,175.97 264.77,175.06 265.44,174.40" fill="none" stroke="#008000" stroke-width="1.35" stroke-linejoin="round" />
<text x="178.5" y="172.6" font-size="8.8" fill="#3020e0" stroke="#3020e0" stroke-width="0.45" text-anchor="middle" font-weight="normal" style='font-family:"Liberation Sans",sans-serif' textLength="11.3" lengthAdjust="spacingAndGlyphs">4 L</text>
<text x="162.5" y="177.0" font-size="7.6" fill="#111" stroke="#111" stroke-width="0.33" text-anchor="end" font-weight="normal" style='font-family:"Liberation Sans",sans-serif' >10</text>
<text x="162.5" y="207.2" font-size="7.6" fill="#111" stroke="#111" stroke-width="0.33" text-anchor="end" font-weight="normal" style='font-family:"Liberation Sans",sans-serif' >0</text>
<text x="162.5" y="237.39999999999998" font-size="7.6" fill="#111" stroke="#111" stroke-width="0.33" text-anchor="end" font-weight="normal" style='font-family:"Liberation Sans",sans-serif' >-10</text>
<text x="165.7" y="260" font-size="7.6" fill="#111" stroke="#111" stroke-width="0.33" text-anchor="middle" font-weight="normal" style='font-family:"Liberation Sans",sans-serif' >-1.0</text>
<text x="190.95" y="260" font-size="7.6" fill="#111" stroke="#111" stroke-width="0.33" text-anchor="middle" font-weight="normal" style='font-family:"Liberation Sans",sans-serif' >-0.5</text>
<text x="216.2" y="260" font-size="7.6" fill="#111" stroke="#111" stroke-width="0.33" text-anchor="middle" font-weight="normal" style='font-family:"Liberation Sans",sans-serif' >0</text>
<text x="241.45" y="260" font-size="7.6" fill="#111" stroke="#111" stroke-width="0.33" text-anchor="middle" font-weight="normal" style='font-family:"Liberation Sans",sans-serif' >0.5</text>
<text x="266.7" y="260" font-size="7.6" fill="#111" stroke="#111" stroke-width="0.33" text-anchor="middle" font-weight="normal" style='font-family:"Liberation Sans",sans-serif' >1.0</text>
<text x="222" y="269" font-size="7.6" fill="#111" stroke="#111" stroke-width="0.33" text-anchor="middle" font-weight="normal" style='font-family:"Liberation Sans",sans-serif' >V<tspan font-size="5.2" dy="1.5">SD</tspan><tspan dy="-1.5"> (V)</tspan></text>
<text x="149.5" y="204" font-size="7.6" fill="#111" stroke="#111" stroke-width="0.32" text-anchor="middle" font-weight="normal" style='font-family:"Liberation Sans",sans-serif' transform="rotate(-90 149.5 204) translate(0 2.6)">I<tspan font-size="5.2" dy="1.5">SD</tspan><tspan dy="-1.5"> (nA)</tspan></text>
<text x="209.2" y="228.4" font-size="7.6" fill="#111" stroke="#111" stroke-width="0.33" text-anchor="start" font-weight="normal" style='font-family:"Liberation Sans",sans-serif' >T= 300 K</text>
<text x="242.7" y="228.4" font-size="7.6" fill="#c00000" stroke="#c00000" stroke-width="0.33" text-anchor="start" font-weight="normal" style='font-family:"Liberation Sans",sans-serif' >350 K</text>
<text x="220.7" y="237.4" font-size="7.6" fill="#2020c0" stroke="#2020c0" stroke-width="0.33" text-anchor="start" font-weight="normal" style='font-family:"Liberation Sans",sans-serif' >400 K</text>
<text x="242.7" y="237.4" font-size="7.6" fill="#c000c0" stroke="#c000c0" stroke-width="0.33" text-anchor="start" font-weight="normal" style='font-family:"Liberation Sans",sans-serif' >450 K</text>
<text x="220.7" y="246.1" font-size="7.6" fill="#008000" stroke="#008000" stroke-width="0.33" text-anchor="start" font-weight="normal" style='font-family:"Liberation Sans",sans-serif' >500 K</text>
<polygon points="168.79,208.39 169.37,208.27 169.93,208.22 170.50,208.23 171.09,208.31 171.68,208.45 172.28,208.66 172.88,208.93 173.49,209.27 174.09,209.66 174.69,210.12 175.28,210.63 175.86,211.20 176.42,211.81 176.97,212.48 177.50,213.19 178.00,213.94 178.48,214.72 178.94,215.54 179.32,216.42 179.67,217.31 179.99,218.23 180.28,219.17 180.49,220.13 180.66,221.10 180.79,222.07 180.88,223.05 180.93,224.03 180.93,225.00 180.89,225.96 180.81,226.91 180.68,227.84 180.51,228.76 180.29,229.65 180.02,230.52 179.70,231.36 179.34,232.17 178.92,232.94 178.46,233.68 177.94,234.37 177.37,235.04 179.23,236.56 179.82,235.72 180.36,234.83 180.82,233.92 181.21,232.98 181.54,232.02 181.81,231.04 182.02,230.04 182.18,229.04 182.27,228.02 182.32,227.00 182.32,225.98 182.26,224.96 182.17,223.93 182.02,222.92 181.84,221.91 181.61,220.91 181.35,219.92 181.05,218.95 180.75,217.98 180.43,217.04 180.06,216.11 179.67,215.21 179.28,214.31 178.87,213.44 178.43,212.60 177.95,211.79 177.45,211.02 176.92,210.29 176.36,209.59 175.78,208.95 175.17,208.34 174.52,207.79 173.85,207.30 173.16,206.86 172.43,206.49 171.67,206.19 170.88,205.96 170.07,205.82 169.23,205.77 168.41,205.81" fill="url(#arrD)" />
<polygon points="176.96,233.77 176.72,237.87 180.61,236.56" fill="#d80000" />
<path d="M303.3,159.6 L405.2,159.6 L405.2,249.2" fill="none" stroke="#b0b0b0" stroke-width="0.8"/>
<path d="M303.3,159.6 L303.3,249.2 L405.2,249.2" fill="none" stroke="#808080" stroke-width="0.8"/>
<line x1="315.2" y1="249.2" x2="315.2" y2="247.2" stroke="#808080" stroke-width="0.7"/>
<line x1="334.73" y1="249.2" x2="334.73" y2="247.2" stroke="#808080" stroke-width="0.7"/>
<line x1="354.26" y1="249.2" x2="354.26" y2="247.2" stroke="#808080" stroke-width="0.7"/>
<line x1="373.78999999999996" y1="249.2" x2="373.78999999999996" y2="247.2" stroke="#808080" stroke-width="0.7"/>
<line x1="393.32" y1="249.2" x2="393.32" y2="247.2" stroke="#808080" stroke-width="0.7"/>
<line x1="303.3" y1="172.0" x2="304.90000000000003" y2="172.0" stroke="#808080" stroke-width="0.7"/>
<line x1="303.3" y1="183.3" x2="304.90000000000003" y2="183.3" stroke="#808080" stroke-width="0.7"/>
<line x1="303.3" y1="194.6" x2="304.90000000000003" y2="194.6" stroke="#808080" stroke-width="0.7"/>
<line x1="303.3" y1="205.9" x2="304.90000000000003" y2="205.9" stroke="#808080" stroke-width="0.7"/>
<line x1="303.3" y1="217.2" x2="304.90000000000003" y2="217.2" stroke="#808080" stroke-width="0.7"/>
<line x1="303.3" y1="228.5" x2="304.90000000000003" y2="228.5" stroke="#808080" stroke-width="0.7"/>
<line x1="303.3" y1="239.8" x2="304.90000000000003" y2="239.8" stroke="#808080" stroke-width="0.7"/>
<line x1="313" y1="182" x2="394.7" y2="172.2" stroke="#607070" stroke-width="0.9"/>
<line x1="315" y1="183.5" x2="389" y2="226.8" stroke="#d04848" stroke-width="0.9"/>
<circle cx="313.2" cy="182" r="2.2" fill="#000"/>
<circle cx="318.2" cy="181.5" r="2.2" fill="#000"/>
<circle cx="323.9" cy="181" r="2.2" fill="#000"/>
<circle cx="331" cy="181" r="2.2" fill="#000"/>
<circle cx="340.8" cy="180.2" r="2.2" fill="#000"/>
<circle cx="313.6" cy="175.4" r="2.2" fill="#f00000"/>
<circle cx="318.2" cy="192.4" r="2.2" fill="#f00000"/>
<circle cx="323.9" cy="193.9" r="2.2" fill="#f00000"/>
<circle cx="331" cy="198.8" r="2.2" fill="#f00000"/>
<circle cx="340.4" cy="207" r="2.2" fill="#f00000"/>
<circle cx="340.9" cy="181.5" r="2" fill="none" stroke="#60e0e0" stroke-width="0.8"/>
<circle cx="347.5" cy="181.5" r="2" fill="none" stroke="#60e0e0" stroke-width="0.8"/>
<circle cx="364.3" cy="178.2" r="2" fill="none" stroke="#60e0e0" stroke-width="0.8"/>
<circle cx="374.5" cy="176.7" r="2" fill="none" stroke="#60e0e0" stroke-width="0.8"/>
<circle cx="390.2" cy="174.2" r="2" fill="none" stroke="#60e0e0" stroke-width="0.8"/>
<circle cx="327.2" cy="187" r="2" fill="none" stroke="#50d050" stroke-width="0.8"/>
<circle cx="335.5" cy="191.4" r="2" fill="none" stroke="#50d050" stroke-width="0.8"/>
<circle cx="347.5" cy="203.4" r="2" fill="none" stroke="#50d050" stroke-width="0.8"/>
<circle cx="364" cy="208.3" r="2" fill="none" stroke="#50d050" stroke-width="0.8"/>
<circle cx="315.7" cy="183" r="2" fill="none" stroke="#a060e0" stroke-width="0.8"/>
<circle cx="321.1" cy="187.3" r="2" fill="none" stroke="#a060e0" stroke-width="0.8"/>
<circle cx="327.2" cy="198.6" r="2" fill="none" stroke="#a060e0" stroke-width="0.8"/>
<circle cx="335.5" cy="201.8" r="2" fill="none" stroke="#a060e0" stroke-width="0.8"/>
<circle cx="347.5" cy="210.5" r="2" fill="none" stroke="#a060e0" stroke-width="0.8"/>
<circle cx="364" cy="219.7" r="2" fill="none" stroke="#a060e0" stroke-width="0.8"/>
<circle cx="390.3" cy="229.6" r="2" fill="none" stroke="#a060e0" stroke-width="0.8"/>
<circle cx="364" cy="213.5" r="2" fill="none" stroke="#6070c0" stroke-width="0.8"/>
<text x="373.3" y="171" font-size="7.4" fill="#111" stroke="#111" stroke-width="0.33" text-anchor="middle" font-weight="normal" style='font-family:"Liberation Sans",sans-serif' >metal</text>
<text x="372.2" y="228.6" font-size="7.3" fill="#c02020" stroke="#c02020" stroke-width="0.33" text-anchor="middle" font-weight="normal" style='font-family:"Liberation Sans",sans-serif' >Semiconductor</text>
<text x="302" y="174.7" font-size="7.8" fill="#111" stroke="#111" stroke-width="0.33" text-anchor="end" font-weight="normal" style='font-family:"Liberation Serif",serif' >-9</text>
<text x="302" y="197.29999999999998" font-size="7.8" fill="#111" stroke="#111" stroke-width="0.33" text-anchor="end" font-weight="normal" style='font-family:"Liberation Serif",serif' >-10</text>
<text x="302" y="219.89999999999998" font-size="7.8" fill="#111" stroke="#111" stroke-width="0.33" text-anchor="end" font-weight="normal" style='font-family:"Liberation Serif",serif' >-11</text>
<text x="302" y="242.5" font-size="7.8" fill="#111" stroke="#111" stroke-width="0.33" text-anchor="end" font-weight="normal" style='font-family:"Liberation Serif",serif' >-12</text>
<text x="315.2" y="258.8" font-size="7.6" fill="#111" stroke="#111" stroke-width="0.33" text-anchor="middle" font-weight="normal" style='font-family:"Liberation Sans",sans-serif' >20</text>
<text x="354.26" y="258.8" font-size="7.6" fill="#111" stroke="#111" stroke-width="0.33" text-anchor="middle" font-weight="normal" style='font-family:"Liberation Sans",sans-serif' >40</text>
<text x="393.32" y="258.8" font-size="7.6" fill="#111" stroke="#111" stroke-width="0.33" text-anchor="middle" font-weight="normal" style='font-family:"Liberation Sans",sans-serif' >60</text>
<text x="360" y="268" font-size="7.4" fill="#111" stroke="#111" stroke-width="0.33" text-anchor="middle" font-weight="normal" style='font-family:"Liberation Sans",sans-serif' >10000/T (K<tspan font-size="5" dy="-2.5">-1</tspan><tspan dy="2.5">)</tspan></text>
<text x="287.4" y="201" font-size="7.4" fill="#111" stroke="#111" stroke-width="0.33" text-anchor="middle" font-weight="normal" style='font-family:"Liberation Sans",sans-serif' transform="rotate(-90 287.4 201) translate(0 2.6)" textLength="22.2" lengthAdjust="spacingAndGlyphs">ln σ (S)</text>
<circle cx="310.8" cy="234.3" r="2.2" fill="#000"/>
<circle cx="310.8" cy="242.9" r="2.2" fill="#f00000"/>
<text x="318.7" y="237" font-size="7.6" fill="#111" stroke="#111" stroke-width="0.33" text-anchor="start" font-weight="normal" style='font-family:"Liberation Sans",sans-serif' >Before (21L)</text>
<text x="318.7" y="245.6" font-size="7.6" fill="#111" stroke="#111" stroke-width="0.33" text-anchor="start" font-weight="normal" style='font-family:"Liberation Sans",sans-serif' >After (4L)</text>
<polygon points="367.39,183.50 367.92,183.86 368.41,184.25 368.88,184.65 369.31,185.09 369.72,185.54 370.10,186.01 370.45,186.50 370.78,187.02 371.07,187.55 371.33,188.09 371.56,188.66 371.76,189.23 371.92,189.82 372.06,190.43 372.16,191.04 372.22,191.67 372.25,192.30 372.24,192.94 372.20,193.58 372.12,194.23 372.00,194.88 371.84,195.54 371.64,196.19 371.40,196.84 371.05,197.46 370.66,198.06 370.23,198.64 369.76,199.21 369.26,199.77 368.71,200.31 368.13,200.84 367.51,201.34 366.85,201.83 366.15,202.29 365.41,202.73 364.62,203.15 363.80,203.55 362.93,203.92 362.02,204.26 361.05,204.58 361.95,207.02 362.96,206.59 363.93,206.12 364.86,205.63 365.74,205.11 366.56,204.56 367.34,203.99 368.07,203.39 368.75,202.78 369.38,202.15 369.97,201.50 370.50,200.83 370.99,200.15 371.44,199.46 371.83,198.77 372.18,198.06 372.49,197.35 372.82,196.66 373.12,195.96 373.37,195.26 373.58,194.54 373.75,193.82 373.88,193.10 373.97,192.37 374.02,191.64 374.03,190.91 373.99,190.18 373.92,189.45 373.80,188.73 373.64,188.02 373.44,187.31 373.20,186.61 372.92,185.93 372.59,185.26 372.23,184.60 371.82,183.96 371.38,183.34 370.89,182.74 370.36,182.17 369.80,181.62 369.21,181.10" fill="url(#arrE)" />
<polygon points="361.31,203.09 358.89,206.80 363.18,207.94" fill="#d00000" />
</g>
</svg>
</body></html>
